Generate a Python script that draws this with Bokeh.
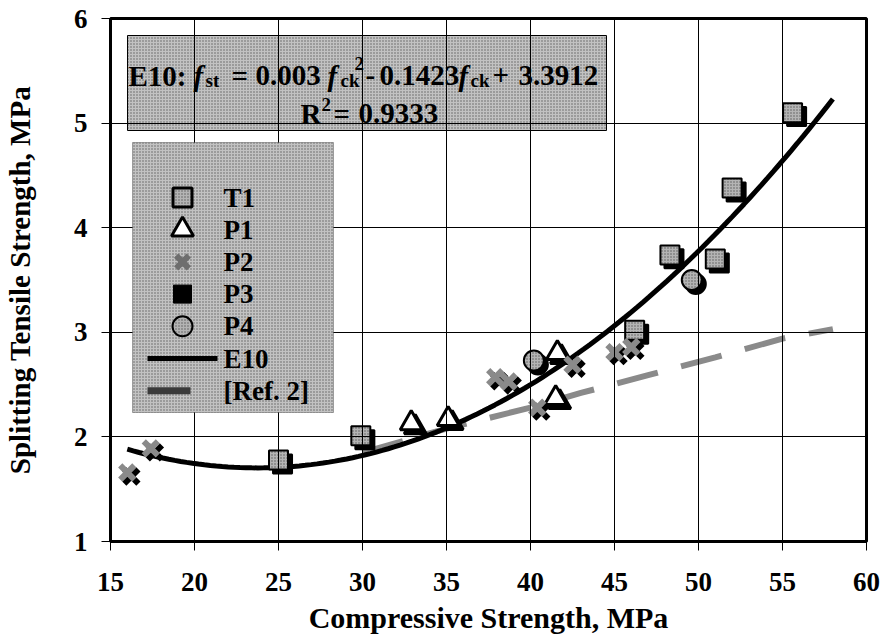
import numpy as np
from bokeh.plotting import figure
from bokeh.models import (Range1d, Label, BoxAnnotation, ColumnDataSource,
                          FixedTicker)
from bokeh.core.properties import value
from bokeh.transform import dodge
from bokeh.embed import file_html
from bokeh.resources import INLINE

# ---- measured data -------------------------------------------------------
t1_x = [25.0, 29.9, 46.2, 48.3, 51.0, 52.0, 55.6]
t1_y = [1.78, 2.01, 3.02, 3.74, 3.70, 4.38, 5.10]

p1_x = [32.9, 35.1, 41.5, 41.6]
p1_y = [2.13, 2.17, 2.37, 2.80]

p2_x = [16.0, 17.4, 37.9, 38.7, 40.4, 42.5, 45.0, 46.0]
p2_y = [1.66, 1.89, 2.57, 2.53, 2.28, 2.69, 2.81, 2.86]

# no P3 specimen can be told apart from the other marks
p3_x = []
p3_y = []

p4_x = [40.2, 49.6]
p4_y = [2.73, 3.50]

# [Ref. 2] relation
ref_x = [30.0, 35.0, 40.0, 43.0, 47.0, 51.0, 55.0, 58.0]
ref_y = [1.85, 2.08, 2.28, 2.42, 2.59, 2.76, 2.94, 3.03]

# E10 regression: f_st = a*f_ck^2 + b*f_ck + c
e10_coef = [0.003, -0.1423, 3.3912]
e10_range = [16.0, 58.0]
r_squared = 0.9333

x_ticks = [15, 20, 25, 30, 35, 40, 45, 50, 55, 60]
y_ticks = [1, 2, 3, 4, 5, 6]

series_names = ["T1", "P1", "P2", "P3", "P4", "E10", "[Ref. 2]"]

# ---- styling -------------------------------------------------------------
SERIF = "Liberation Serif"
GRAY = "#8a8a8a"
MARK_GRAY = "#b4b4b4"
BOX_GRAY = "#c2c2c2"

p = figure(width=884, height=638, x_range=Range1d(15, 60), y_range=Range1d(1, 6),
           output_backend="svg", toolbar_location=None,
           min_border_left=110, min_border_right=18, min_border_top=18,
           min_border_bottom=97)
p.background_fill_color = "white"
p.border_fill_color = "white"
p.outline_line_color = "black"
p.outline_line_width = 3

for ax in (p.xaxis[0], p.yaxis[0]):
    ax.axis_line_width = 3
    ax.axis_line_color = "black"
    ax.major_tick_in = 0
    ax.major_tick_out = 9
    ax.major_tick_line_color = "black"
    ax.major_tick_line_width = 1
    ax.minor_tick_line_color = None
    ax.major_label_text_font = SERIF
    ax.major_label_text_font_style = "bold"
    ax.major_label_text_font_size = "27px"
    ax.major_label_text_color = "black"
    ax.axis_label_text_font = SERIF
    ax.axis_label_text_font_style = "bold"
    ax.axis_label_text_color = "black"

p.xaxis.axis_label_text_font_size = "30px"
p.yaxis.axis_label_text_font_size = "29px"
p.xaxis.ticker = FixedTicker(ticks=x_ticks)
p.yaxis.ticker = FixedTicker(ticks=y_ticks)
p.xaxis.axis_label = "Compressive Strength, MPa"
p.yaxis.axis_label = "Splitting Tensile Strength, MPa"
p.xaxis.major_label_standoff = 22
p.xaxis.axis_label_standoff = 7
p.yaxis.major_label_standoff = 14
p.yaxis.axis_label_standoff = 35

p.xgrid.ticker = FixedTicker(ticks=x_ticks)
p.ygrid.ticker = FixedTicker(ticks=y_ticks)
for g in (p.xgrid[0], p.ygrid[0]):
    g.grid_line_color = "black"
    g.grid_line_width = 1
    g.grid_line_alpha = 1.0
    # grid drawn above the equation panel but below the data marks
    g.level = "glyph"

# pixel -> data helpers for the annotation panels (frame spans 110..866, 18..541)
PX_PER_X = 756 / 45.0
PX_PER_Y = 523 / 5.0


def at(px, py):
    return 15 + (px - 110) / PX_PER_X, 6 - (py - 18) / PX_PER_Y


DOTS = dict(hatch_pattern="dot", hatch_color="black", hatch_scale=3,
            hatch_weight=1, hatch_alpha=0.5)

# equation panel: a quad in the underlay, so the grid lines cross it
ex0, ey0 = at(127, 35)
ex1, ey1 = at(606, 130)
p.quad(left=[ex0], right=[ex1], top=[ey0], bottom=[ey1], fill_color=BOX_GRAY,
       line_color="black", line_width=1, level="underlay", **DOTS)

# legend panel hides the grid
lx0, ly0 = at(132, 142)
lx1, ly1 = at(333, 412)
p.add_layout(BoxAnnotation(left=lx0, right=lx1, top=ly0, bottom=ly1,
                           fill_color=BOX_GRAY, fill_alpha=1.0,
                           line_color="black", line_width=1,
                           level="annotation", **DOTS))

# ---- curves --------------------------------------------------------------
xs = np.linspace(e10_range[0], e10_range[1], 120)
ys = e10_coef[0] * xs ** 2 + e10_coef[1] * xs + e10_coef[2]
p.line(ref_x, ref_y, line_color=GRAY, line_width=6, line_dash="42 24")
p.line(xs, ys, line_color="black", line_width=5)

# ---- markers with drop shadows -------------------------------------------
DX, DY = 0.24, -0.038


def shadowed(xv, yv, marker, size, fill, line_w, line_col="black", hatch=True):
    src = ColumnDataSource(dict(x=xv, y=yv))
    p.scatter(dodge("x", DX), dodge("y", DY), source=src, marker=marker,
              size=size, fill_color="black", line_color="black",
              line_width=line_w)
    kw = DOTS if hatch else {}
    p.scatter("x", "y", source=src, marker=marker, size=size,
              fill_color=fill, line_color=line_col, line_width=line_w, **kw)


shadowed(t1_x, t1_y, "square", 19, MARK_GRAY, 2)
shadowed(p1_x, p1_y, "triangle", 22, "white", 3, hatch=False)
shadowed(p2_x, p2_y, "x", 20, None, 6, line_col=GRAY, hatch=False)
shadowed(p3_x, p3_y, "square", 18, "black", 1, hatch=False)
shadowed(p4_x, p4_y, "circle", 20, MARK_GRAY, 2)

# ---- legend entries ------------------------------------------------------
ROW0, PITCH = 197, 32.2
SWATCH_X, LABEL_X = 182, 223
rows = [at(SWATCH_X, ROW0 + i * PITCH) for i in range(len(series_names))]
lx = [r[0] for r in rows]
ly = [r[1] for r in rows]


def swatch(i, marker, size, fill, line_w, line_col="black", hatch=True):
    kw = DOTS if hatch else {}
    p.scatter([lx[i]], [ly[i]], marker=marker, size=size, fill_color=fill,
              line_color=line_col, line_width=line_w, level="overlay", **kw)


swatch(0, "square", 19, MARK_GRAY, 3)
swatch(1, "triangle", 22, "white", 3, hatch=False)
swatch(2, "x", 18, None, 6, line_col="#6e6e6e", hatch=False)
swatch(3, "square", 18, "black", 1, hatch=False)
swatch(4, "circle", 20, MARK_GRAY, 2)

e_x0, _ = at(147, 0)
e_x1, _ = at(217, 0)
r_x1, _ = at(190, 0)
p.segment(x0=[e_x0], y0=[ly[5]], x1=[e_x1], y1=[ly[5]], line_color="black",
          line_width=5, level="overlay")
p.segment(x0=[e_x0], y0=[ly[6]], x1=[r_x1], y1=[ly[6]], line_color="#3a3a3a",
          line_width=7, level="overlay")

tx, _ = at(LABEL_X, 0)
p.text(x=[tx] * len(series_names), y=ly, text=series_names,
       text_font=value(SERIF), text_font_style="bold", text_font_size="27px",
       text_color="black", text_baseline="middle", text_align="left",
       level="overlay")

# ---- equation text -------------------------------------------------------


def piece(txt, px, py, size=29, style="bold"):
    x, y = at(px, py)
    p.add_layout(Label(x=x, y=y, text=txt, text_font=SERIF,
                       text_font_style=style, text_font_size=f"{size}px",
                       text_color="black", text_baseline="alphabetic",
                       text_align="left"))


a, b, c = e10_coef
piece("E10:", 128, 75)
piece("f", 193, 75, style="bold italic")
piece("st", 205, 80, size=19)
piece("=", 231, 75)
piece(f"{a:g}", 255, 75)
piece("f", 327, 75, style="bold italic")
piece("ck", 340, 80, size=19)
piece("2", 354, 63, size=19)
piece("-", 365, 75)
piece(f"{abs(b):g}", 379, 75)
piece("f", 458, 75, style="bold italic")
piece("ck", 470, 80, size=19)
piece("+", 492, 75)
piece(f"{c:g}", 518, 75)
piece("R", 300, 113)
piece("2", 321, 104, size=19)
piece("=", 333, 113)
piece(f"{r_squared:g}", 358, 113)

open("out.html", "w").write(file_html(p, INLINE))
